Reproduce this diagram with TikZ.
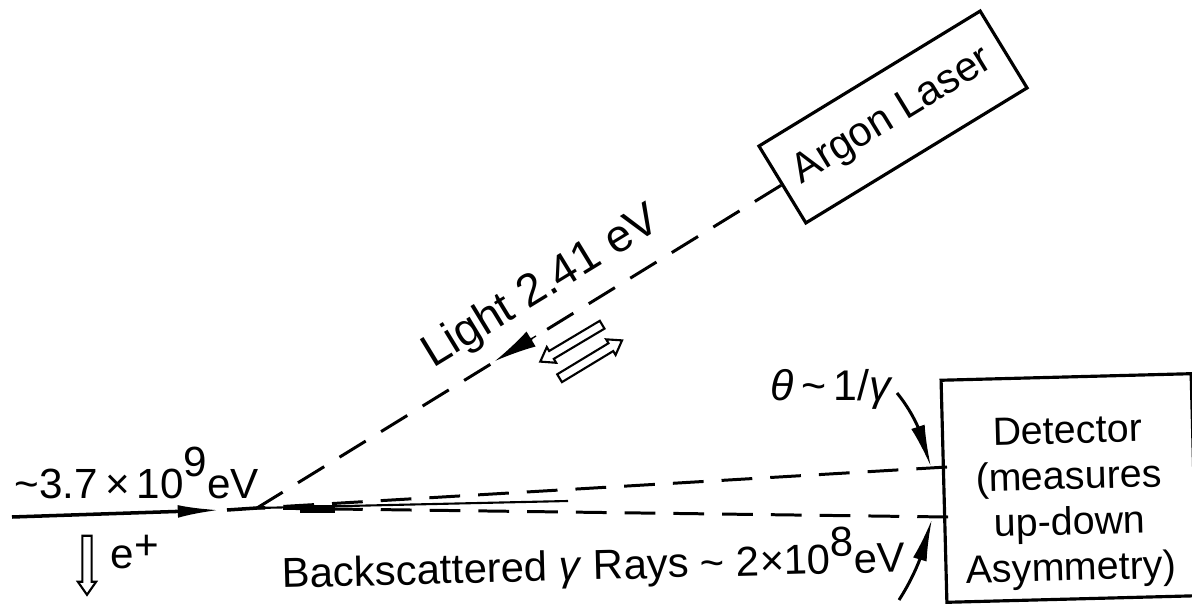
\documentclass[tikz,border=0pt]{standalone}
\usepackage{fontspec}
\usetikzlibrary{arrows.meta, bending, shapes.arrows}
\setmainfont{Liberation Sans}

\tikzset{
  beam/.style={line width=0.85pt, dash pattern=on 8.75pt off 5.12pt},
  boxed/.style={draw, line width=0.9pt, align=center, inner sep=0pt},
  hollow/.style={draw, line width=0.6pt, shape=single arrow, inner sep=1pt, minimum width=4.6pt,
    single arrow head extend=1.3pt, single arrow tip angle=70},
  pointer/.style={line width=0.85pt, -{Latex[length=12pt, width=4pt]}}
}

\begin{document}
\begin{tikzpicture}[x=0.01cm, y=-0.01cm]
  \useasboundingbox (0,0) rectangle (1192,604);
  % boxes
  \node[boxed, minimum width=2.59cm, minimum height=0.9cm, rotate=31.4,
        font=\fontsize{11.8}{14}\selectfont] (laser) at (893,117) {Argon Laser};
  \node[boxed, minimum width=2.5cm, minimum height=2.22cm, rotate=1.5,
        font=\fontsize{11.2}{13}\selectfont] (detector) at (1069,488)
        {\rule{0pt}{16pt}Detector\\(measures\\up-down\\Asymmetry)};
  % beams
  \coordinate (source) at (12,517);
  \coordinate (vertex) at (257,508);
  \coordinate (restart) at (227,510);
  \coordinate (hit up) at (947,467);
  \coordinate (hit down) at (948,517);
  \coordinate (mid end) at (568,501);
  \draw[line width=1pt, -{Latex[length=12pt, width=3.6pt]}] (source) -- (220,510);
  \draw[line width=1pt] (restart) -- (vertex);
  \draw[beam] (laser.west) -- (vertex);
  \draw[beam] (hit up) -- (vertex);
  \draw[beam] (hit down) -- (vertex);
  \draw[line width=0.6pt] (vertex) -- (mid end);
  \draw[line width=2.2pt] (300,509) -- (335,509);
  \draw[-{Latex[length=12pt, width=5pt]}] (536,336) -- (495,361);
  % hollow arrows
  \node[hollow, minimum height=72pt*0.2845, rotate=210.8] (back arrow) at (574,341.5) {};
  \node[hollow, minimum height=73pt*0.2845, rotate=31.2] (forth arrow) at (588,361) {};
  \node[hollow, minimum height=59pt*0.2845, rotate=-90] (down arrow) at (87,562) {};
  % pointers
  \coordinate (theta tail) at (897,393);
  \coordinate (gamma tail) at (899,600);
  \draw[pointer] (theta tail) .. controls (915,415) and (925,440) .. (931,467);
  \draw[pointer] (gamma tail) .. controls (915,575) and (925,550) .. (932,519);
  % labels
  \node[anchor=base, rotate=31.4, font=\fontsize{13}{15}\selectfont] (light) at (548,298) {Light 2.41 eV};
  \node[anchor=base west, inner sep=0pt, font=\fontsize{12}{15}\selectfont] (energy) at (14,498)
        {\char`\~3.7\,×\,10\raisebox{6pt}{9}eV};
  \node[anchor=base west, inner sep=0pt, font=\fontsize{12}{15}\selectfont] (positron) at (110,568)
        {e\raisebox{2.5pt}{+}};
  \node[anchor=base west, inner sep=0pt, rotate=1.5, font=\fontsize{11.9}{14}\selectfont] (rays) at (282,588)
        {Backscattered \textit{γ} Rays \char`\~\ 2×10\raisebox{5pt}{8}eV};
  \node[anchor=base west, inner sep=0pt, font=\fontsize{12.2}{15}\selectfont] (angle) at (770,400)
        {\textit{θ}\,\char`\~\,1/\textit{γ}};
\end{tikzpicture}
\end{document}
